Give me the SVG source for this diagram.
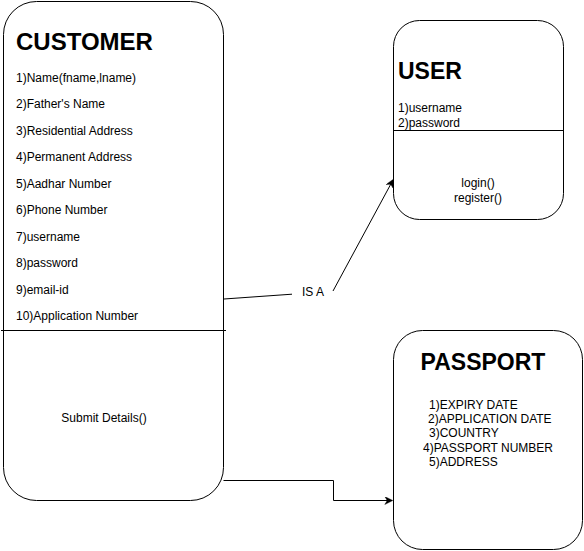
<svg xmlns="http://www.w3.org/2000/svg" width="584" height="551" viewBox="0 0 584 551">
<style>
.box{fill:#fff;stroke:#000;stroke-width:1}
.ln{stroke:#000;stroke-width:1;fill:none}
.t{font-family:"Liberation Sans",Arial,Helvetica,sans-serif;font-size:12px;fill:#000}
.h{font-family:"Liberation Sans",Arial,Helvetica,sans-serif;font-size:23px;font-weight:bold;fill:#000}
.m{text-anchor:middle}
</style>
<defs>
<marker id="arr" viewBox="0 0 10 10" refX="9" refY="5" markerWidth="9" markerHeight="8" markerUnits="userSpaceOnUse" orient="auto">
<path d="M0,0 L10,5 L0,10 L3,5 z" fill="#000" stroke="#000" stroke-width="0.5"/>
</marker>
</defs>
<rect width="584" height="551" fill="#fff"/>
<g id="customer">
<rect class="box" x="3.5" y="1.5" width="220" height="499" rx="33" ry="33"/>
<line class="ln" x1="1" y1="330.5" x2="226" y2="330.5"/>
<text class="h" x="16" y="50" style="font-size:24px">CUSTOMER</text>
<text class="t" x="16" y="81.5">1)Name(fname,lname)</text>
<text class="t" x="16" y="108">2)Father's Name</text>
<text class="t" x="16" y="134.5">3)Residential Address</text>
<text class="t" x="16" y="161">4)Permanent Address</text>
<text class="t" x="16" y="187.5">5)Aadhar Number</text>
<text class="t" x="16" y="214">6)Phone Number</text>
<text class="t" x="16" y="240.5">7)username</text>
<text class="t" x="16" y="267">8)password</text>
<text class="t" x="16" y="293.5">9)email-id</text>
<text class="t" x="16" y="320">10)Application Number</text>
<text class="t m" x="104" y="422">Submit Details()</text>
</g>
<g id="user">
<rect class="box" x="393.5" y="20.5" width="170" height="199" rx="26" ry="26"/>
<line class="ln" x1="393.5" y1="130.5" x2="563.5" y2="130.5"/>
<text class="h" x="398" y="79">USER</text>
<text class="t" x="398" y="111.5">1)username</text>
<text class="t" x="398" y="126.5">2)password</text>
<text class="t m" x="478" y="186.5">login()</text>
<text class="t m" x="478" y="201.5">register()</text>
</g>
<g id="passport">
<rect class="box" x="393.5" y="330.5" width="189" height="219" rx="29" ry="29"/>
<text class="h m" x="483" y="370">PASSPORT</text>
<text class="t" x="429" y="408.5">1)EXPIRY DATE</text>
<text class="t" x="428" y="422.5">2)APPLICATION DATE</text>
<text class="t" x="429" y="437">3)COUNTRY</text>
<text class="t" x="423" y="451.5">4)PASSPORT NUMBER</text>
<text class="t" x="429" y="466">5)ADDRESS</text>
</g>
<g id="connectors">
<path class="ln" d="M224,299 L292,294.2"/>
<path class="ln" d="M333,291 L393,180" marker-end="url(#arr)"/>
<text class="t m" x="313" y="295.5">IS A</text>
<path class="ln" d="M223.5,480.5 H333.5 V500.5 H392" marker-end="url(#arr)"/>
</g>
</svg>
